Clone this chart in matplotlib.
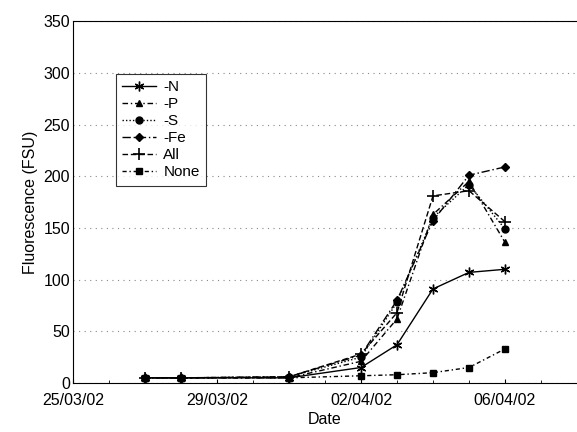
import numpy as np
import matplotlib
matplotlib.use('Agg')
import matplotlib.pyplot as plt
import matplotlib.dates as mdates
from datetime import datetime

plt.rcParams['font.family'] = ['Liberation Sans', 'DejaVu Sans']

dates = ['27/03/02', '28/03/02', '31/03/02', '02/04/02', '03/04/02',
         '04/04/02', '05/04/02', '06/04/02']
days = [datetime.strptime(d, '%d/%m/%y') for d in dates]

n_vals = [5, 5, 5, 15, 37, 91, 107, 110]
p_vals = [5, 5, 5, 21, 62, 163, 195, 136]
s_vals = [5, 5, 6, 25, 78, 160, 192, 149]
fe_vals = [5, 5, 6, 27, 80, 157, 201, 209]
all_vals = [5, 5, 6, 28, 68, 181, 186, 156]
none_vals = [5, 5, 5, 7, 8, 10, 15, 33]

fig = plt.figure(figsize=(5.77, 4.32), dpi=100)
ax = fig.add_axes([0.1265, 0.1134, 0.8735, 0.8376])

ax.plot(days, n_vals, color='black', lw=1, ls='-', marker=(6, 2, 0), ms=7, mew=1, label='-N')
ax.plot(days, p_vals, color='black', lw=1, ls=(0, (4, 2, 1, 2)), marker='^', ms=5, label='-P')
ax.plot(days, s_vals, color='black', lw=1, ls=(0, (1, 1.5)), marker='o', ms=5, label='-S')
ax.plot(days, fe_vals, color='black', lw=1, ls=(0, (6, 2, 1, 2)), marker='D', ms=4, label='-Fe')
ax.plot(days, all_vals, color='black', lw=1, ls=(0, (4, 2)), marker='+', ms=8, mew=1.2, label='All')
ax.plot(days, none_vals, color='black', lw=1, ls=(0, (3, 2, 1, 2)), marker='s', ms=5, label='None')

ax.set_xlim(datetime(2002, 3, 25), datetime(2002, 4, 8))
ax.set_ylim(0, 350)
ax.xaxis.set_major_locator(mdates.DayLocator(bymonthday=[25, 29, 2, 6]))
ax.xaxis.set_minor_locator(mdates.DayLocator())
ax.xaxis.set_major_formatter(mdates.DateFormatter('%d/%m/%y'))
ax.set_yticks(np.arange(0, 351, 50))
ax.tick_params(axis='both', labelsize=11.5, direction='in', length=3)
ax.tick_params(axis='x', which='minor', direction='in', length=2)
ax.tick_params(axis='x', pad=7)
ax.tick_params(axis='y', length=0, pad=2)

ax.yaxis.grid(True, color='#888888', ls=(0, (1, 4)), lw=0.8)
ax.set_axisbelow(True)
ax.spines['right'].set_visible(False)

ax.set_xlabel('Date', fontsize=11.5, labelpad=3)
ax.set_ylabel('Fluorescence (FSU)', fontsize=11.5, labelpad=4)

leg = ax.legend(loc='upper left', bbox_to_anchor=(0.07, 0.875), fontsize=11,
                frameon=True, fancybox=False, edgecolor='black', handlelength=2.2,
                labelspacing=0.2, borderpad=0.4, handletextpad=0.5)
leg.get_frame().set_linewidth(0.8)

fig.savefig('out.png', dpi=100)
